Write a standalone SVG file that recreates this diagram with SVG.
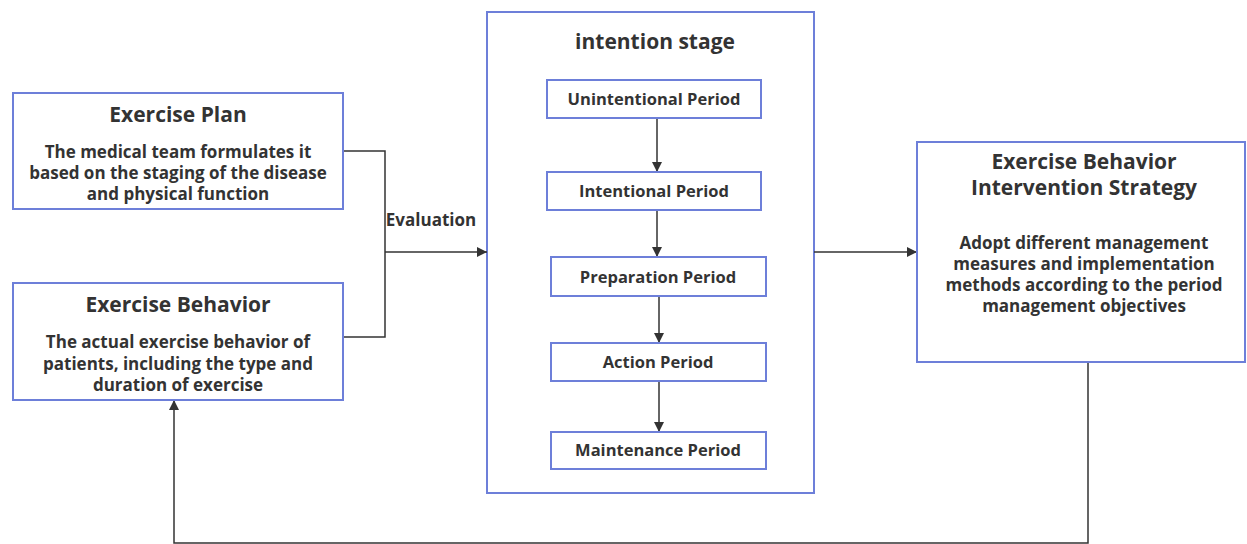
<svg xmlns="http://www.w3.org/2000/svg" width="1247" height="544" viewBox="0 0 1247 544">
<defs>
<marker id="arr" viewBox="0 0 10 10" refX="10" refY="5" markerWidth="10" markerHeight="10" markerUnits="userSpaceOnUse" orient="auto">
<path d="M0,0 L10,5 L0,10 z" fill="#333"/>
</marker>
<style>
.box{fill:#fff;stroke:#6d7fd9;stroke-width:2}
.t{font-family:"Open Sans","Liberation Sans",sans-serif;font-weight:700;fill:#333;text-anchor:middle}
.h{font-size:21px}
.b{font-size:17px}
.p{font-size:16.5px}
.ln{fill:none;stroke:#333;stroke-width:1.5}
</style>
</defs>
<rect width="1247" height="544" fill="#fff"/>
<g id="stage">
<rect class="box" x="487" y="12" width="327" height="481"/>
<text class="t h" x="655" y="49">intention stage</text>
</g>
<g id="connectors">
<polyline class="ln" points="343,151 385,151 385,337 343,337"/>
<line class="ln" x1="385" y1="252" x2="487" y2="252" marker-end="url(#arr)"/>
<text class="t b" x="431" y="226">Evaluation</text>
<line class="ln" x1="814" y1="252" x2="917" y2="252" marker-end="url(#arr)"/>
<line class="ln" x1="657" y1="118" x2="657" y2="172" marker-end="url(#arr)"/>
<line class="ln" x1="657" y1="210" x2="657" y2="257" marker-end="url(#arr)"/>
<line class="ln" x1="659" y1="296" x2="659" y2="343" marker-end="url(#arr)"/>
<line class="ln" x1="659" y1="381" x2="659" y2="432" marker-end="url(#arr)"/>
<polyline class="ln" points="1088,362 1088,543 174,543 174,400" marker-end="url(#arr)"/>
</g>
<g id="plan">
<rect class="box" x="13" y="93" width="330" height="116"/>
<text class="t h" x="178" y="122">Exercise Plan</text>
<text class="t b" x="178" y="158">The medical team formulates it</text>
<text class="t b" x="178" y="179">based on the staging of the disease</text>
<text class="t b" x="178" y="200">and physical function</text>
</g>
<g id="behavior">
<rect class="box" x="13" y="283" width="330" height="117"/>
<text class="t h" x="178" y="312">Exercise Behavior</text>
<text class="t b" x="178" y="348">The actual exercise behavior of</text>
<text class="t b" x="178" y="370">patients, including the type and</text>
<text class="t b" x="178" y="391">duration of exercise</text>
</g>
<g id="p1">
<rect class="box" x="547" y="80" width="214" height="38"/>
<text class="t p" x="654" y="105">Unintentional Period</text>
</g>
<g id="p2">
<rect class="box" x="547" y="172" width="214" height="38"/>
<text class="t p" x="654" y="197">Intentional Period</text>
</g>
<g id="p3">
<rect class="box" x="551" y="257" width="215" height="39"/>
<text class="t p" x="658" y="283">Preparation Period</text>
</g>
<g id="p4">
<rect class="box" x="551" y="343" width="215" height="38"/>
<text class="t p" x="658" y="368">Action Period</text>
</g>
<g id="p5">
<rect class="box" x="551" y="432" width="215" height="37"/>
<text class="t p" x="658" y="456">Maintenance Period</text>
</g>
<g id="strategy">
<rect class="box" x="917" y="142" width="328" height="220"/>
<text class="t h" x="1084" y="169">Exercise Behavior</text>
<text class="t h" x="1084" y="195">Intervention Strategy</text>
<text class="t b" x="1084" y="249">Adopt different management</text>
<text class="t b" x="1084" y="270">measures and implementation</text>
<text class="t b" x="1084" y="291">methods according to the period</text>
<text class="t b" x="1084" y="312">management objectives</text>
</g>
</svg>
